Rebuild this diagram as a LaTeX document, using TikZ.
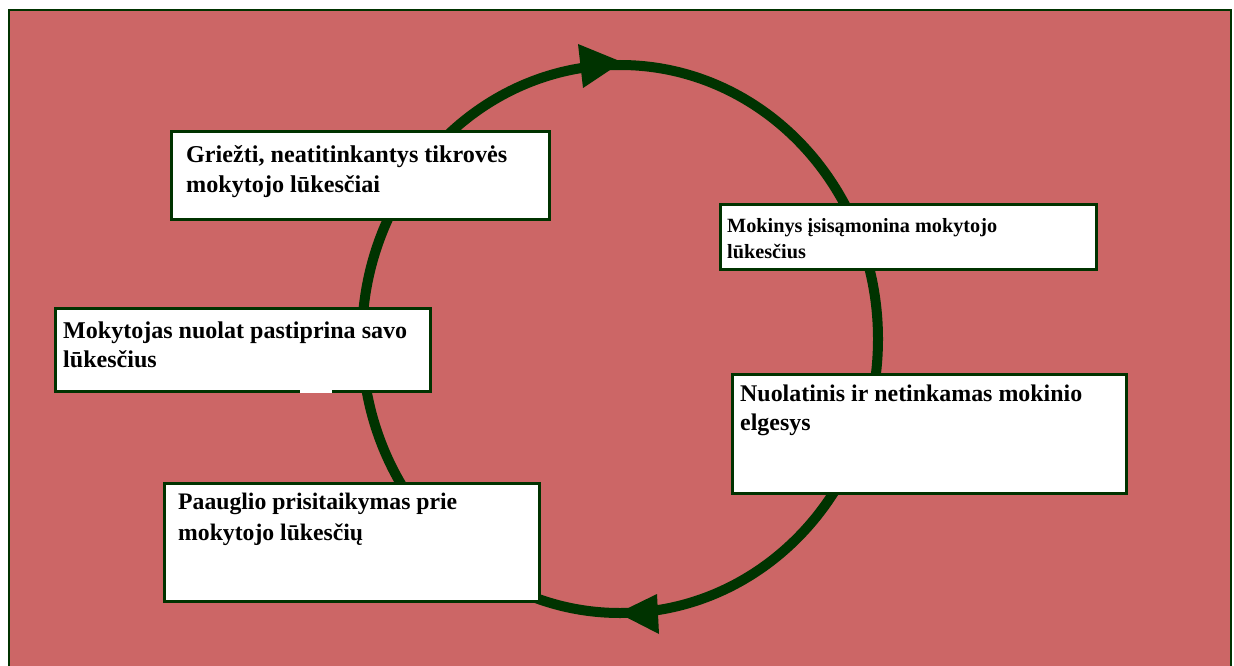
\documentclass[tikz,border=0pt]{standalone}
\usepackage{fontspec}
\setmainfont{Liberation Serif}
\usetikzlibrary{calc}
\definecolor{bgred}{RGB}{204,102,102}
\definecolor{dkgreen}{RGB}{0,51,0}
\newlength\mytmpw
\newcommand\fitsize[3]{%
  \settowidth\mytmpw{\normalfont\bfseries\fontsize{10}{12}\selectfont #3}%
  \pgfmathsetmacro#1{10*#2/\mytmpw}}
\tikzset{
  box/.style={draw=dkgreen, line width=3pt, fill=white, inner sep=0pt, anchor=north west},
  txt/.style={inner sep=0pt, anchor=base west, align=left, text=black},
}
\begin{document}
\fitsize\fsA{321}{Griežti, neatitinkantys tikrovės}%
\fitsize\fsB{270}{Mokinys įsisąmonina mokytojo}%
\fitsize\fsC{344}{Mokytojas nuolat pastiprina savo}%
\fitsize\fsD{342}{Nuolatinis ir netinkamas mokinio}%
\fitsize\fsE{279}{Paauglio prisitaikymas prie}%
\begin{tikzpicture}[x=1pt,y=-1pt]
\useasboundingbox (0,0) rectangle (1234,666);
\fill[white] (0,0) rectangle (1234,666);
\draw[fill=bgred, draw=dkgreen, line width=2pt] (9,10) rectangle (1231,690);
% cycle
\draw[dkgreen, line width=10pt] (620,339) ellipse [x radius=258pt, y radius=274pt];
\fill[dkgreen] (578,44) -- (622,62) -- (583,88) -- cycle;
\fill[dkgreen] (657,594) -- (618,613) -- (659,634) -- cycle;
% boxes
\node[box, minimum width=378pt, minimum height=88pt] (b1) at (170,130) {};
\node[box, minimum width=376pt, minimum height=65pt] (b2) at (719,203) {};
\node[box, minimum width=375pt, minimum height=83pt] (b3) at (54,307) {};
\node[box, minimum width=394pt, minimum height=119pt] (b4) at (731,373) {};
\node[box, minimum width=375pt, minimum height=118pt] (b5) at (163,482) {};
\fill[white] (300,386) rectangle (332,393);
% texts (base anchor = baseline of the last line)
\node[txt, font=\bfseries\fontsize{\fsA}{30}\selectfont] (t1) at ($(b1.north west)+(16,62)$) {Griežti, neatitinkantys tikrovės\\mokytojo lūkesčiai};
\node[txt, font=\bfseries\fontsize{\fsB}{26}\selectfont] (t2) at ($(b2.north west)+(8,55)$) {Mokinys įsisąmonina mokytojo\\lūkesčius};
\node[txt, font=\bfseries\fontsize{\fsC}{29}\selectfont] (t3) at ($(b3.north west)+(9,60)$) {Mokytojas nuolat pastiprina savo\\lūkesčius};
\node[txt, font=\bfseries\fontsize{\fsD}{29}\selectfont] (t4) at ($(b4.north west)+(9,57)$) {Nuolatinis ir netinkamas mokinio\\elgesys};
\node[txt, font=\bfseries\fontsize{\fsE}{31}\selectfont] (t5) at ($(b5.north west)+(15,58)$) {Paauglio prisitaikymas prie\\mokytojo lūkesčių};
\end{tikzpicture}
\end{document}
